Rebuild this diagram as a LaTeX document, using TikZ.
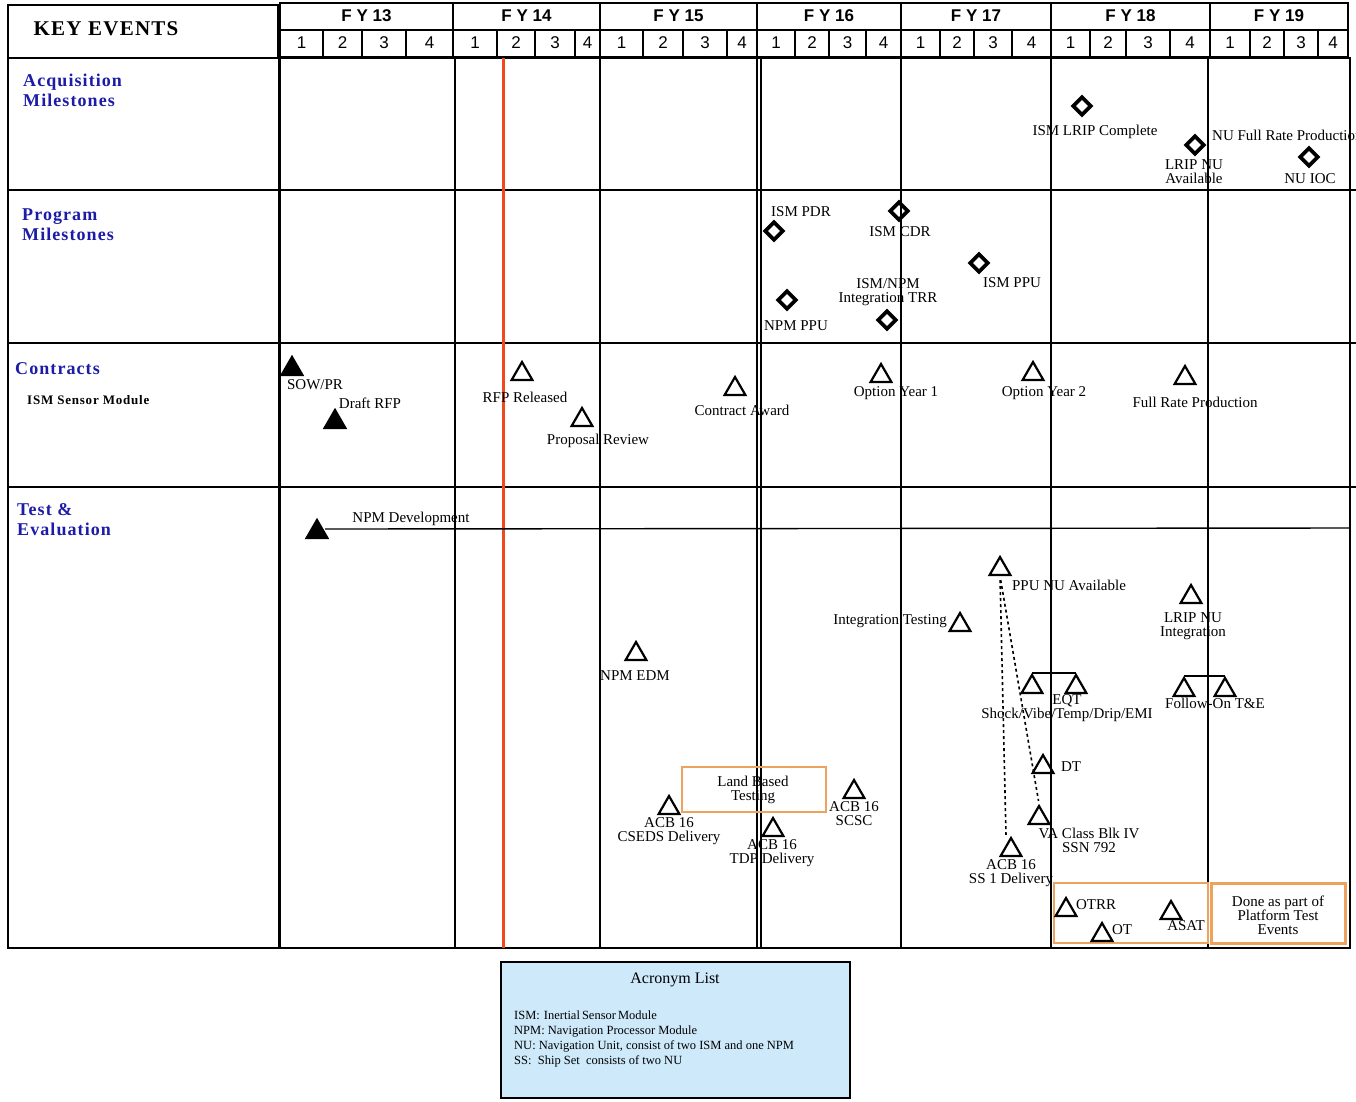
\documentclass[tikz,border=0pt]{standalone}
\usepackage{fontspec}
\setmainfont{Liberation Serif}
\newfontfamily\hdrfont{Liberation Sans}
\newfontfamily\wideserif[LetterSpace=6]{Liberation Serif}
\usetikzlibrary{shapes.geometric}
\definecolor{hdrblue}{HTML}{1C1CA8}
\definecolor{todayred}{HTML}{EE4A1E}
\definecolor{boxorange}{HTML}{EBA35E}
\definecolor{acrblue}{HTML}{CDE9FA}
\newcommand{\fsz}[2]{\fontsize{#1}{#2}\selectfont}

\begin{document}
\begin{tikzpicture}[x=1pt, y=-1pt,
  every node/.style={font=\fsz{15}{14}, inner sep=1pt, align=center},
  grid/.style={line width=2pt},
  msdia/.style={draw, diamond, line width=3.6pt, minimum size=19pt, inner sep=0pt},
  evt/.style={draw, regular polygon, regular polygon sides=3, line width=2.2pt,
    minimum size=24pt, inner sep=0pt, yshift=-3pt},
  evtdone/.style={evt, fill=black},
  rowhead/.style={font=\wideserif\bfseries\fsz{18}{20}, text=hdrblue, anchor=north west, align=left},
  orbox/.style={draw=boxorange, line width=1.8pt},
]

% Background
\clip (0,0) rectangle (1356,1101);
\fill[white] (0,0) rectangle (1356,1101);

% Header
\draw[grid] (8,5) rectangle (278,58);
\node[font=\wideserif\bfseries\fsz{21}{22}] (keyev) at (106,29) {KEY EVENTS};
\foreach \fy/\xa/\xb in {13/280/453, 14/453/600, 15/600/757, 16/757/901,
    17/901/1051, 18/1051/1210, 19/1210/1348}{
  \draw[grid] (\xa,3) rectangle (\xb,57);
  \draw[grid] (\xa,30) -- (\xb,30);
  \node[font=\hdrfont\bfseries\fsz{17}{18}] (fy\fy) at ({(\xa+\xb)/2},16) {F Y \fy};
}
\foreach \q/\xa/\xb in {1/280/323, 2/323/362, 3/362/406, 4/406/453,
    1/453/497, 2/497/535, 3/535/575, 4/575/600,
    1/600/643, 2/643/683, 3/683/727, 4/727/757,
    1/757/795, 2/795/829, 3/829/866, 4/866/901,
    1/901/940, 2/940/974, 3/974/1012, 4/1012/1051,
    1/1051/1090, 2/1090/1126, 3/1126/1170, 4/1170/1210,
    1/1210/1250, 2/1250/1284, 3/1284/1318, 4/1318/1348}{
  \draw[grid] (\xb,30) -- (\xb,57);
  \node[font=\hdrfont\fsz{17}{18}] (q\xa) at ({(\xa+\xb)/2},43) {\q};
}

% Body grid
\draw[grid] (8,58) rectangle (1350,948);
\foreach \y in {190,343,487} \draw[grid] (8,\y) -- (1356,\y);
\foreach \x in {455,600,757,761,901,1051,1208} \draw[grid] (\x,58) -- (\x,948);
\draw[line width=3pt] (279,58) -- (279,948);

% Today line
\draw[todayred, line width=3pt] (503,58) -- (503,948);

% Row headings
\node[rowhead] (acq) at (22,73) {Acquisition\\Milestones};
\node[rowhead] (prog) at (21,208) {Program\\Milestones};
\node[rowhead] (contr) at (14,361) {Contracts};
\node[font=\wideserif\bfseries\fsz{13}{14}, anchor=north west] (ismsm) at (26,394) {ISM Sensor Module};
\node[rowhead] (tande) at (16,502) {Test \&\\Evaluation};

% Acquisition milestones
\node[msdia] (lripc) at (1082,106) {};
\node (lripcl) at (1095,132) {ISM LRIP Complete};
\node[msdia] (lripnu) at (1195,145) {};
\node (lripnul) at (1194,172) {LRIP NU\\Available};
\node[anchor=west] (nufrpl) at (1211,135) {NU Full Rate Production};
\node[msdia] (nuioc) at (1309,157) {};
\node (nuiocl) at (1310,179) {NU IOC};

% Program milestones
\node[msdia] (ismpdr) at (774,231) {};
\node (ismpdrl) at (801,212) {ISM PDR};
\node[msdia] (ismcdr) at (899,211) {};
\node (ismcdrl) at (900,232) {ISM CDR};
\node[msdia] (ismppu) at (979,263) {};
\node (ismppul) at (1012,283) {ISM PPU};
\node[msdia] (npmppu) at (787,300) {};
\node (npmppul) at (796,326) {NPM PPU};
\node[msdia] (trr) at (887,320) {};
\node (trrl) at (888,292) {ISM/NPM\\Integration TRR};

% Contracts
\node[evtdone] (sow) at (292,366) {};
\node (sowl) at (315,385) {SOW/PR};
\node[evtdone] (drfp) at (335,419) {};
\node (drfpl) at (370,403) {Draft RFP};
\node[evt] (rfp) at (522,371) {};
\node (rfpl) at (525,397) {RFP Released};
\node[evt] (prop) at (582,417) {};
\node (propl) at (598,441) {Proposal Review};
\node[evt] (award) at (735,386) {};
\node (awardl) at (742,410) {Contract Award};
\node[evt] (opt1) at (881,373) {};
\node (opt1l) at (896,393) {Option Year 1};
\node[evt] (opt2) at (1033,371) {};
\node (opt2l) at (1044,393) {Option Year 2};
\node[evt] (frp) at (1185,375) {};
\node (frpl) at (1195,402) {Full Rate Production};

% Test & Evaluation
\node[evtdone] (npmdev) at (317,529) {};
\coordinate (npmend) at (1350,528);
\draw[line width=1.4pt] ([yshift=3pt]npmdev.east) -- (npmend);
\node (npmdevl) at (411,519) {NPM Development};

\node[evt] (ppunu) at (1000,566) {};
\node (ppunul) at (1069,585) {PPU NU Available};
\node[evt] (inttest) at (960,622) {};
\node (inttestl) at (890,621) {Integration Testing};
\node[evt] (lripint) at (1191,594) {};
\node (lripintl) at (1193,626) {LRIP NU\\Integration};
\node[evt] (npmedm) at (636,651) {};
\node (npmedml) at (635,676) {NPM EDM};

\node[evt] (eqta) at (1032,684) {};
\node[evt] (eqtb) at (1076,684) {};
\draw[line width=1.8pt] (eqta.corner 1) -- (eqtb.corner 1);
\node (eqtl) at (1067,708) {EQT\\Shock/Vibe/Temp/Drip/EMI};
\node[evt] (fota) at (1184,687) {};
\node[evt] (fotb) at (1225,687) {};
\draw[line width=1.8pt] (fota.corner 1) -- (fotb.corner 1);
\node (fotl) at (1215,703) {Follow-On T\&E};

\node[evt] (dt) at (1043,764) {};
\node (dtl) at (1071,767) {DT};
\node[evt] (vablk) at (1039,815) {};
\node (vablkl) at (1089,840) {VA Class Blk IV\\SSN 792};
\node[evt] (ss1) at (1011,847) {};
\node (ss1l) at (1011,873) {ACB 16\\SS 1 Delivery};
\draw[dashed, line width=1.6pt, shorten <=4pt, shorten >=1pt] (ppunu.south) -- ([xshift=-5pt]ss1.north);
\draw[dashed, line width=1.6pt, shorten <=4pt, shorten >=3pt] (ppunu.south) -- (vablk.north);

\draw[orbox] (682,767) rectangle (826,812);
\node (lbt) at (753,790) {Land Based\\Testing};
\node[evt] (cseds) at (669,805) {};
\node (csedsl) at (669,831) {ACB 16\\CSEDS Delivery};
\node[evt] (tdp) at (773,827) {};
\node (tdpl) at (772,853) {ACB 16\\TDP Delivery};
\node[evt] (scsc) at (854,789) {};
\node (scscl) at (854,814) {ACB 16\\SCSC};

\draw[orbox, line width=2.2pt] (1054,883) rectangle (1208,943);
\draw[orbox, line width=3pt] (1211,883) rectangle (1345,943);
\node[evt] (otrr) at (1066,907) {};
\node (otrrl) at (1096,905) {OTRR};
\node[evt] (ot) at (1102,932) {};
\node (otl) at (1122,930) {OT};
\node[evt] (asat) at (1171,910) {};
\node (asatl) at (1186,926) {ASAT};
\node (platl) at (1278,915) {Done as part of\\Platform Test\\Events};

% Acronym list
\draw[fill=acrblue, line width=2pt] (501,962) rectangle (850,1098);
\node[font=\fsz{16}{17}] (acrt) at (675,980) {Acronym List};
\node[font=\fsz{12.5}{15}, anchor=north west, align=left] (acrl) at (513,1010)
  {\spaceskip=2pt ISM:\ \ Inertial Sensor Module\\
   NPM: Navigation Processor Module\\
   NU: Navigation Unit, consist of two ISM and one NPM\\
   SS:\ \ Ship Set\ \ consists of two NU};

\end{tikzpicture}
\end{document}
